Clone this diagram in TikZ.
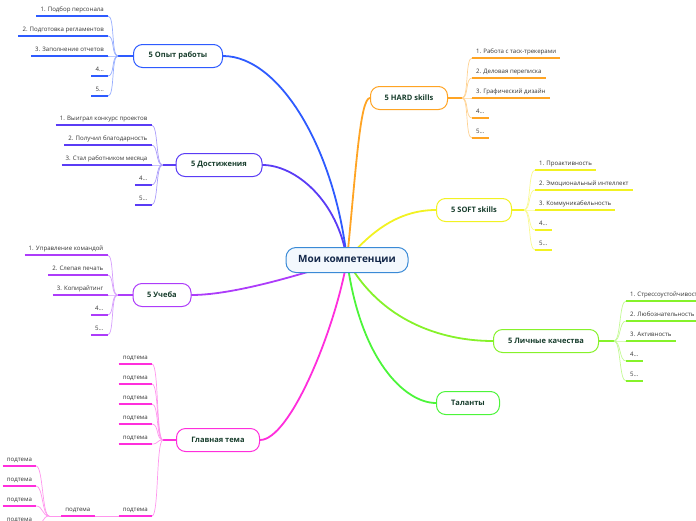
\documentclass[tikz,border=0pt]{standalone}
\usepackage{fontspec}
\setmainfont{Open Sans}
\usetikzlibrary{positioning,backgrounds}

\definecolor{cRoot}{HTML}{3A8AD6}
\definecolor{cRootFill}{HTML}{F3F8FD}
\definecolor{cRootText}{HTML}{14284A}
\definecolor{cText}{HTML}{173D2C}
\definecolor{cLeaf}{HTML}{333333}
\definecolor{cOp}{HTML}{2E5BFF}
\definecolor{cDost}{HTML}{5A3CF5}
\definecolor{cUch}{HTML}{AD3CFA}
\definecolor{cGlav}{HTML}{FF2EDC}
\definecolor{cHard}{HTML}{FFA424}
\definecolor{cSoft}{HTML}{F2F222}
\definecolor{cLich}{HTML}{86F22A}
\definecolor{cTal}{HTML}{4CF53A}

\begin{document}
\begin{tikzpicture}[x=1pt, y=-1pt]
    \tikzset{
        rootbox/.style = {rectangle, rounded corners=10pt, line width=1pt, draw=cRoot, fill=cRootFill, minimum width=122pt, minimum height=25pt, text=cRootText, font=\bfseries\fontsize{10}{12}\selectfont},
        topicbox/.style = {rectangle, rounded corners=9pt, line width=1pt, fill=white, minimum height=23pt, text=cText, font=\bfseries\fontsize{7.5}{9}\selectfont},
        leafL/.style = {anchor=south east, inner xsep=4pt, inner ysep=3.5pt, text height=4.3pt, text depth=1.3pt, text=cLeaf, font=\fontsize{6.1}{7}\selectfont},
        leafR/.style = {leafL, anchor=south west},
        branch/.style = {line width=1.8pt, line cap=round},
        uline/.style = {line width=1.6pt},
        twig/.style = {line width=0.7pt},
    }
    \useasboundingbox (0,0) rectangle (696,520);

    \node (root) [rootbox] at (347,260) {Мои компетенции};
    \node (op) [topicbox, draw=cOp, minimum width=89pt] at (178,56) {5 Опыт работы};
    \node (dost) [topicbox, draw=cDost, minimum width=86pt] at (219,165) {5 Достижения};
    \node (uch) [topicbox, draw=cUch, minimum width=58pt] at (162,295) {5 Учеба};
    \node (glav) [topicbox, draw=cGlav, minimum width=83pt] at (218,440) {Главная тема};
    \node (hard) [topicbox, draw=cHard, minimum width=77pt] at (409,98) {5 HARD skills};
    \node (soft) [topicbox, draw=cSoft, minimum width=75pt] at (474,210) {5 SOFT skills};
    \node (lich) [topicbox, draw=cLich, minimum width=105pt] at (546,341) {5 Личные качества};
    \node (tal) [topicbox, draw=cTal, minimum width=63pt] at (468,403) {Таланты};

    \begin{scope}[on background layer]
        \draw [branch, cOp] (root.center) .. controls (335,150) and (280,56) .. (op.east);
        \draw [branch, cDost] (root.center) .. controls (338,200) and (295,165) .. (dost.east);
        \draw [branch, cUch] (root.center) .. controls (320,268) and (240,295) .. (uch.east);
        \draw [branch, cGlav] (root.center) .. controls (335,330) and (290,440) .. (glav.east);
        \draw [branch, cHard] (root.center) .. controls (356,170) and (360,98) .. (hard.west);
        \draw [branch, cSoft] (root.center) .. controls (372,230) and (400,210) .. (soft.west);
        \draw [branch, cLich] (root.center) .. controls (380,320) and (440,341) .. (lich.west);
        \draw [branch, cTal] (root.center) .. controls (360,360) and (405,403) .. (tal.west);
    \end{scope}

    % left side
    \coordinate (opj) at ([xshift=-15pt]op.west);
    \draw [uline, cOp] (op.west) -- (opj);
    \foreach \txt [count=\i] in {1. Подбор персонала, 2. Подготовка регламентов, 3. Заполнение отчетов, 4\dots, 5\dots} {
        \path (opj) ++(-10,{20*(\i-3)}) node (op\i) [leafL] {\txt};
        \draw [twig, cOp!50] (opj) .. controls +(-7,0) and +(7,0) .. (op\i.south east);
        \draw [uline, cOp] (op\i.south west) -- (op\i.south east);
    }

    \coordinate (dostj) at ([xshift=-13pt]dost.west);
    \draw [uline, cDost] (dost.west) -- (dostj);
    \foreach \txt [count=\i] in {1. Выиграл конкурс проектов, 2. Получил благодарность, 3. Стал работником месяца, 4\dots, 5\dots} {
        \path (dostj) ++(-11,{20*(\i-3)}) node (dost\i) [leafL] {\txt};
        \draw [twig, cDost!50] (dostj) .. controls +(-7,0) and +(7,0) .. (dost\i.south east);
        \draw [uline, cDost] (dost\i.south west) -- (dost\i.south east);
    }

    \coordinate (uchj) at ([xshift=-15pt]uch.west);
    \draw [uline, cUch] (uch.west) -- (uchj);
    \foreach \txt [count=\i] in {1. Управление командой, 2. Слепая печать, 3. Копирайтинг, 4\dots, 5\dots} {
        \path (uchj) ++(-10,{20*(\i-3)}) node (uch\i) [leafL] {\txt};
        \draw [twig, cUch!50] (uchj) .. controls +(-7,0) and +(7,0) .. (uch\i.south east);
        \draw [uline, cUch] (uch\i.south west) -- (uch\i.south east);
    }

    \coordinate (glavj) at ([xshift=-13pt]glav.west);
    \draw [uline, cGlav] (glav.west) -- (glavj);
    \foreach \dy [count=\i] in {-76,-56,-36,-16,4,76} {
        \path (glavj) ++(-11,\dy) node (glav\i) [leafL] {подтема};
        \draw [twig, cGlav!50] (glavj) .. controls +(-7,0) and +(7,0) .. (glav\i.south east);
        \draw [uline, cGlav] (glav\i.south west) -- (glav\i.south east);
    }
    \node (sub) [leafL, left=24pt of glav6] {подтема};
    \draw [twig, cGlav!50] (sub.south east) -- (glav6.south west);
    \draw [uline, cGlav] (sub.south west) -- (sub.south east);
    \coordinate (subj) at ([xshift=-12pt]sub.south west);
    \draw [twig, cGlav!50] (sub.south west) -- (subj);
    \foreach \dy [count=\i] in {-50,-30,-10,10} {
        \path (subj) ++(-13,\dy) node (sub\i) [leafL] {подтема};
        \draw [twig, cGlav!50] (subj) .. controls +(-7,0) and +(7,0) .. (sub\i.south east);
        \draw [uline, cGlav] (sub\i.south west) -- (sub\i.south east);
    }

    % right side
    \coordinate (hardj) at ([xshift=14pt]hard.east);
    \draw [uline, cHard] (hard.east) -- (hardj);
    \foreach \txt [count=\i] in {1. Работа с таск-трекерами, 2. Деловая переписка, 3. Графический дизайн, 4\dots, 5\dots} {
        \path (hardj) ++(10,{20*(\i-3)}) node (hard\i) [leafR] {\txt};
        \draw [twig, cHard!50] (hardj) .. controls +(7,0) and +(-7,0) .. (hard\i.south west);
        \draw [uline, cHard] (hard\i.south west) -- (hard\i.south east);
    }

    \coordinate (softj) at ([xshift=12pt]soft.east);
    \draw [uline, cSoft] (soft.east) -- (softj);
    \foreach \txt [count=\i] in {1. Проактивность, 2. Эмоциональный интеллект, 3. Коммуникабельность, 4\dots, 5\dots} {
        \path (softj) ++(11,{20*(\i-3)}) node (soft\i) [leafR] {\txt};
        \draw [twig, cSoft!50] (softj) .. controls +(7,0) and +(-7,0) .. (soft\i.south west);
        \draw [uline, cSoft] (soft\i.south west) -- (soft\i.south east);
    }

    \coordinate (lichj) at ([xshift=15pt]lich.east);
    \draw [uline, cLich] (lich.east) -- (lichj);
    \foreach \txt [count=\i] in {1. Стрессоустойчивость, 2. Любознательность, 3. Активность, 4\dots, 5\dots} {
        \path (lichj) ++(12,{20*(\i-3)}) node (lich\i) [leafR] {\txt};
        \draw [twig, cLich!50] (lichj) .. controls +(7,0) and +(-7,0) .. (lich\i.south west);
        \draw [uline, cLich] (lich\i.south west) -- (lich\i.south east);
    }
\end{tikzpicture}
\end{document}
